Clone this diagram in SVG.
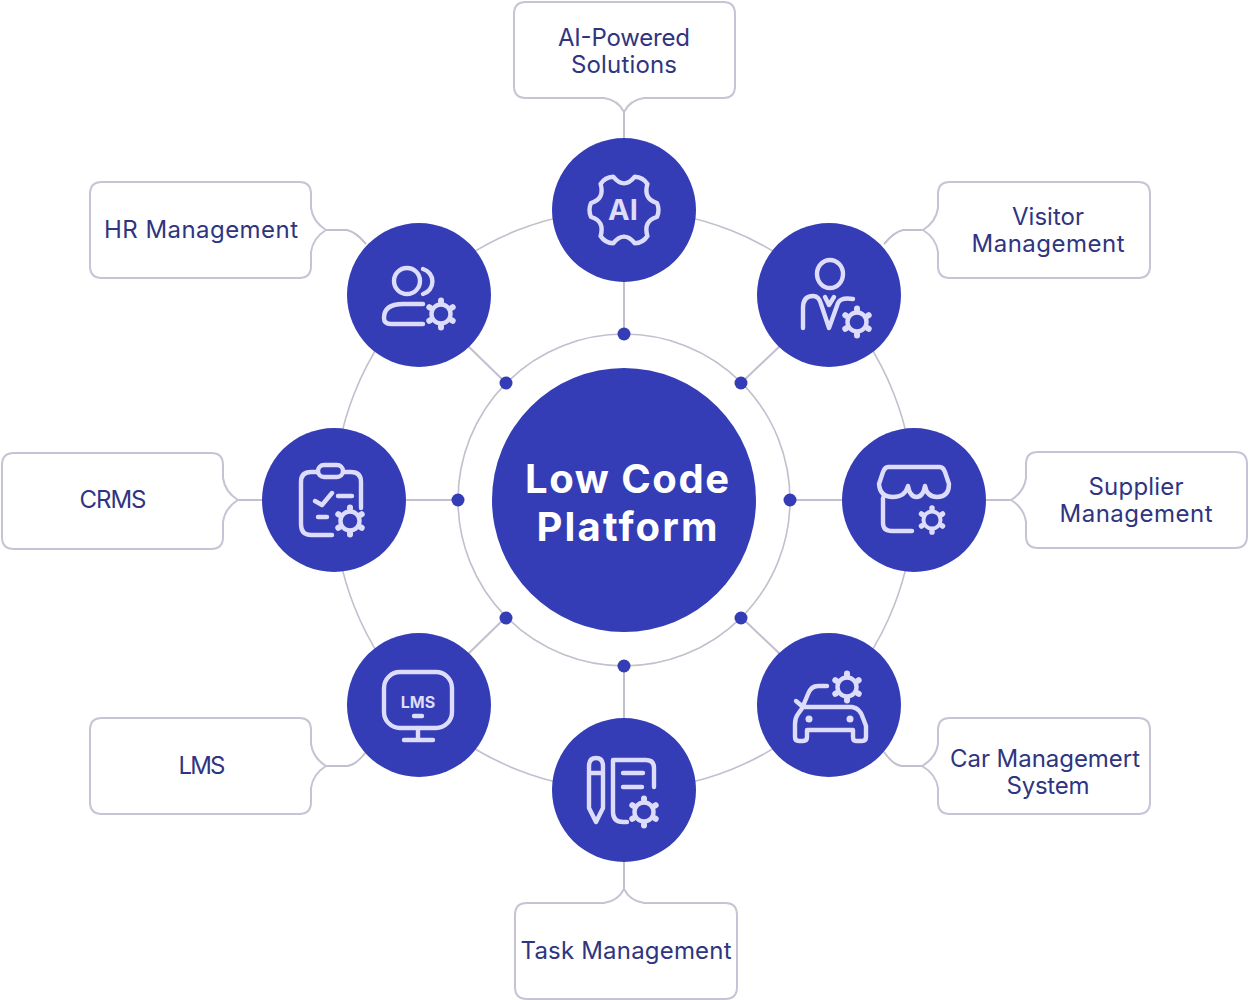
<svg xmlns="http://www.w3.org/2000/svg" xmlns:xlink="http://www.w3.org/1999/xlink" width="1248" height="1000" viewBox="0 0 1248 1000">
<style>
.node{fill:#343db5}
.box{fill:#fff;stroke:#c6c4d4;stroke-width:2}
.conn{fill:none;stroke:#c2bfce;stroke-width:2}
.ring{fill:none;stroke:#c2bfce;stroke-width:1.6}
.dot{fill:#343db5}
.ic{fill:none;stroke:#dddcfb;stroke-width:4.4;stroke-linecap:round;stroke-linejoin:round}
.tooth{fill:none;stroke:#dddcfb;stroke-width:6;stroke-linecap:round}
.lb{font-family:"Inter","Liberation Sans",sans-serif;font-size:24px;fill:#2f3580;text-anchor:middle}
.ct{font-family:"Inter","Liberation Sans",sans-serif;font-size:40px;font-weight:700;fill:#fff;text-anchor:middle}
.it{font-family:"Inter","Liberation Sans",sans-serif;font-weight:700;fill:#dddcfb;text-anchor:middle}
</style>
<defs>
<g id="gear"><circle r="9.5" class="ic"/><path class="tooth" d="M0-12.5V-13.5M10.8-6.2L11.7-6.8M10.8 6.2L11.7 6.8M0 12.5V13.5M-10.8 6.2L-11.7 6.8M-10.8-6.2L-11.7-6.8"/></g>
</defs>
<rect width="1248" height="1000" fill="#fff"/>
<g id="connectors">
<circle class="ring" cx="624" cy="500" r="290"/>
<circle class="ring" cx="624" cy="500" r="166"/>
<path class="conn" d="M624 112V138M624 282V334M741 383L781 345M790 500H842M741 617L781 655M624 666V718M506 617L467 655M458 500H406M506 383L467 345"/>
<path class="conn" d="M325 230H347Q356 232 366 244M923 230H903Q894 232 884 244M237 500H262M1012 500H986M326 766H347Q356 765 366 752M922 766H902Q893 765 884 752M624 889V862"/>
<circle class="dot" cx="624" cy="334" r="6.5"/><circle class="dot" cx="741" cy="383" r="6.5"/><circle class="dot" cx="790" cy="500" r="6.5"/><circle class="dot" cx="741" cy="618" r="6.5"/><circle class="dot" cx="624" cy="666" r="6.5"/><circle class="dot" cx="506" cy="618" r="6.5"/><circle class="dot" cx="458" cy="500" r="6.5"/><circle class="dot" cx="506" cy="383" r="6.5"/>
</g>
<g id="center"><circle class="node" cx="624" cy="500" r="132"/>
<text class="ct" x="627" y="493" textLength="204">Low Code</text><text class="ct" x="627" y="541" textLength="181">Platform</text></g>
<g id="ai-powered">
<path class="box" d="M526 2H723Q735 2 735 14V86Q735 98 723 98H644Q630 100 624 112Q618 100 604 98H526Q514 98 514 86V14Q514 2 526 2Z"/>
<text class="lb" x="624" y="46" textLength="132">AI-Powered</text><text class="lb" x="624" y="73" textLength="106">Solutions</text>
<circle class="node" cx="624" cy="210" r="72"/>
<path class="ic" transform="translate(624 210)" d="M33-7Q36 0 33 7Q19 11 23.4 26Q19 33 10.8 33.3Q0 20-10.8 33.3Q-19 33-23.4 26Q-19 11-33 7Q-36 0-33-7Q-19-11-23.4-26Q-19-33-10.8-33.3Q0-20 10.8-33.3Q19-33 23.4-26Q19-11 33-7Z"/>
<text class="it" x="623" y="220" font-size="29" font-weight="600">AI</text>
</g>
<g id="hr">
<path class="box" d="M102 182H299Q311 182 311 194V208Q313 222 326 230Q313 238 311 252V266Q311 278 299 278H102Q90 278 90 266V194Q90 182 102 182Z"/>
<text class="lb" x="201" y="238" textLength="194">HR Management</text>
<circle class="node" cx="419" cy="295" r="72"/>
<circle class="ic" cx="407" cy="281" r="13"/>
<path class="ic" d="M423 269A13 13 0 0 1 423 294M423 304H403Q384 304 384 318Q384 324 391 324H423"/>
<use href="#gear" xlink:href="#gear" x="441" y="314"/>
</g>
<g id="visitor">
<path class="box" d="M950 182H1138Q1150 182 1150 194V266Q1150 278 1138 278H950Q938 278 938 266V252Q936 238 923 230Q936 222 938 208V194Q938 182 950 182Z"/>
<text class="lb" x="1048" y="225" textLength="72">Visitor</text><text class="lb" x="1048" y="252" textLength="153">Management</text>
<circle class="node" cx="829" cy="295" r="72"/>
<ellipse class="ic" cx="830" cy="274" rx="13" ry="14"/>
<path class="ic" d="M803 328V308Q803 296 813 296Q819 296 821 304L829 328L838 303Q841 297 853 299M825 297L829 305L834 297"/>
<use href="#gear" xlink:href="#gear" x="857" y="322"/>
</g>
<g id="crms">
<path class="box" d="M14 453H211Q223 453 223 465V478Q225 492 238 500Q225 508 223 522V537Q223 549 211 549H14Q2 549 2 537V465Q2 453 14 453Z"/>
<text class="lb" x="113" y="508" textLength="67">CRMS</text>
<circle class="node" cx="334" cy="500" r="72"/>
<path class="ic" d="M361 508V482Q361 472 351 472H343M318 472H311Q301 472 301 482V524Q301 535 311 535H332M315 501L322 505L332 493M338 496H352M318 517H327"/>
<rect class="ic" x="318" y="465" width="25" height="12" rx="6"/>
<use href="#gear" xlink:href="#gear" x="350" y="521"/>
</g>
<g id="supplier">
<path class="box" d="M1038 452H1235Q1247 452 1247 464V536Q1247 548 1235 548H1038Q1026 548 1026 536V522Q1024 508 1011 500Q1024 492 1026 478V464Q1026 452 1038 452Z"/>
<text class="lb" x="1136" y="495" textLength="95">Supplier</text><text class="lb" x="1136" y="522" textLength="153">Management</text>
<circle class="node" cx="914" cy="500" r="72"/>
<path class="ic" d="M888 467H940Q943 467 945 472L949 484Q949 497 937 497Q927 497 925 486Q923 497 916.5 497Q910 497 908 486Q905 497 893 497Q880 497 879 484L883 472Q885 467 888 467ZM883 498V523Q883 531 892 531H912"/>
<use href="#gear" xlink:href="#gear" transform="translate(932 520) scale(.9)"/>
</g>
<g id="car">
<path class="box" d="M950 718H1138Q1150 718 1150 730V802Q1150 814 1138 814H950Q938 814 938 802V788Q936 774 922 766Q936 758 938 744V730Q938 718 950 718Z"/>
<text class="lb" x="1045" y="767" textLength="190">Car Managemert</text><text class="lb" x="1048" y="794" textLength="83">System</text>
<circle class="node" cx="829" cy="705" r="72"/>
<path class="ic" d="M803 707H852Q860 708 863 718L866 726V737Q866 741 862 741H856Q853 741 853 737V730H807V737Q807 741 803 741H799Q795 741 795 737V724Q795 718 798 714ZM827 686H818Q811 686 808 694L803 706M796 701L803 707"/>
<circle cx="809" cy="719" r="3.5" fill="#dddcfb"/><circle cx="850" cy="719" r="3.5" fill="#dddcfb"/>
<use href="#gear" xlink:href="#gear" x="847" y="687"/>
</g>
<g id="task">
<path class="box" d="M527 903H604Q618 901 624 889Q630 901 644 903H725Q737 903 737 915V987Q737 999 725 999H527Q515 999 515 987V915Q515 903 527 903Z"/>
<text class="lb" x="626" y="959" textLength="211">Task Management</text>
<circle class="node" cx="624" cy="790" r="72"/>
<path class="ic" d="M589 766Q589 758 596 758Q603 758 603 766V808L596 822L589 808ZM589 773H603M654 787V768Q654 760 646 760H613V812Q613 822 623 822H627M623 773H643M623 787H642"/>
<use href="#gear" xlink:href="#gear" x="644" y="812"/>
</g>
<g id="lms">
<path class="box" d="M102 718H299Q311 718 311 730V744Q313 758 326 766Q313 774 311 788V802Q311 814 299 814H102Q90 814 90 802V730Q90 718 102 718Z"/>
<text class="lb" x="202" y="774" textLength="47">LMS</text>
<circle class="node" cx="419" cy="705" r="72"/>
<rect class="ic" x="384" y="672" width="68" height="56" rx="16"/>
<path class="ic" d="M414 716H422M418 728V740M404 740H433"/>
<text class="it" x="418" y="708" font-size="16">LMS</text>
</g>
</svg>
